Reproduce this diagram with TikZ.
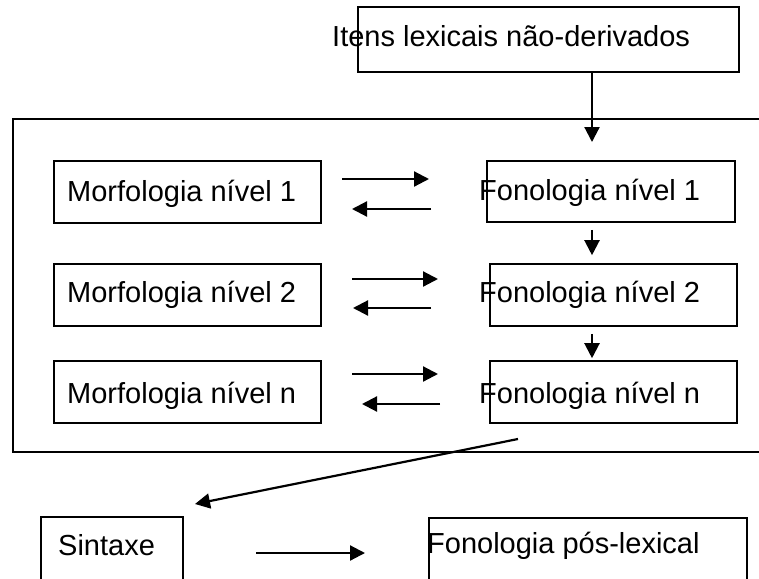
\documentclass[tikz,border=0pt]{standalone}
\usepackage{fontspec}
\setmainfont{Liberation Sans}
\usetikzlibrary{arrows.meta}
\tikzset{
  box/.style={draw, line width=1.6pt, inner sep=0pt, rectangle},
  txt/.style={inner sep=0pt, anchor=base west, font=\fontsize{29}{34}\selectfont},
  conn/.style={line width=2.2pt, -{Triangle[length=15pt,width=15pt]}},
}
\begin{document}
\begin{tikzpicture}[x=1pt,y=-1pt]
\clip (0,0) rectangle (759,578);
\fill[white] (0,0) rectangle (759,578);
% big lexical box (right side beyond page)
\node[box, minimum width=767pt, minimum height=333pt] (lex) at (396.5,285.5) {};
% top box
\node[box, minimum width=381pt, minimum height=65pt] (top) at (548.5,39.5) {};
\node[txt] (toptxt) at (332,47) {Itens lexicais não-derivados};
% morphology boxes
\node[box, minimum width=267pt, minimum height=62pt] (m1) at (187.5,192) {};
\node[box, minimum width=267pt, minimum height=62pt] (m2) at (187.5,295) {};
\node[box, minimum width=267pt, minimum height=62pt] (mn) at (187.5,392) {};
\node[txt] (m1t) at (67,201) {Morfologia nível 1};
\node[txt] (m2t) at (67,302) {Morfologia nível 2};
\node[txt] (mnt) at (67,403) {Morfologia nível n};
% phonology boxes
\node[box, minimum width=248pt, minimum height=61pt] (f1) at (611,191.5) {};
\node[box, minimum width=247pt, minimum height=62pt] (f2) at (613.5,295) {};
\node[box, minimum width=247pt, minimum height=62pt] (fn) at (613.5,392) {};
\node[txt] (f1t) at (479,200) {Fonologia nível 1};
\node[txt] (f2t) at (479,302) {Fonologia nível 2};
\node[txt] (fnt) at (479,403) {Fonologia nível n};
% bottom boxes
\node[box, minimum width=142pt, minimum height=120pt] (sx) at (112,577) {};
\node[box, minimum width=318pt, minimum height=120pt] (fp) at (588,578) {};
\node[txt] (sxt) at (58,555) {Sintaxe};
\node[txt] (fpt) at (427,553) {Fonologia pós-lexical};
% free connector ends
\coordinate (a0) at (592,142);
\coordinate (r1a) at (342,179); \coordinate (r1b) at (429,179);
\coordinate (l1a) at (431,209); \coordinate (l1b) at (352,209);
\coordinate (r2a) at (352,279); \coordinate (r2b) at (438,279);
\coordinate (l2a) at (431,308); \coordinate (l2b) at (353,308);
\coordinate (r3a) at (352,374); \coordinate (r3b) at (438,374);
\coordinate (l3a) at (440,404); \coordinate (l3b) at (362,404);
\coordinate (d0) at (518,439); \coordinate (d1) at (195,504);
\coordinate (b0) at (256,553); \coordinate (b1) at (365,553);
% connectors
\draw[conn] (top.south -| a0) -- (a0);
\draw[conn, shorten <=7pt, shorten >=8pt] (f1.south -| a0) -- (f2.north -| a0);
\draw[conn, shorten <=7pt, shorten >=2pt] (f2.south -| a0) -- (fn.north -| a0);
\draw[conn] (r1a) -- (r1b);
\draw[conn] (l1a) -- (l1b);
\draw[conn] (r2a) -- (r2b);
\draw[conn] (l2a) -- (l2b);
\draw[conn] (r3a) -- (r3b);
\draw[conn] (l3a) -- (l3b);
\draw[conn] (d0) -- (d1);
\draw[conn] (b0) -- (b1);
\end{tikzpicture}
\end{document}
